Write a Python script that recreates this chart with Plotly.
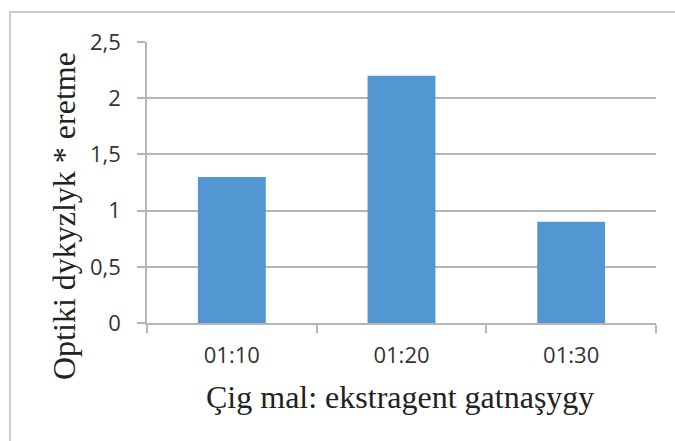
import plotly.graph_objects as go

# donnees
categories = ["01:10", "01:20", "01:30"]
valeurs = [1.3, 2.2, 0.9]
y_ticks = [0, 0.5, 1, 1.5, 2, 2.5]
titre_x = "Çig mal: ekstragent gatnaşygy"
titre_y = "Optiki dykyzlyk * eretme"

W, H = 675, 441
L, R, T, B = 147, 19, 42, 118

fig = go.Figure()

fig.add_trace(go.Bar(
    x=categories,
    y=valeurs,
    width=0.4,
    marker=dict(color="#5296D2", line=dict(width=0)),
))

# conversion pixels -> coordonnees paper
pw = W - L - R
ph = H - T - B
def px_x(px):
    return (px - L) / pw
def px_y(py):
    return (H - B - py) / ph

# cadre gris (haut + gauche seulement)
fig.add_shape(
    type="path", xref="paper", yref="paper",
    path="M %f,%f L %f,%f L %f,%f" % (px_x(10), px_y(442), px_x(10), px_y(12), px_x(676), px_y(12)),
    line=dict(color="#BDBDBD", width=1.5),
)

# titres des axes
fig.add_annotation(
    text=titre_x, xref="paper", yref="paper",
    x=px_x(400), y=px_y(397), xanchor="center", yanchor="middle",
    showarrow=False, font=dict(family="Liberation Serif", size=32, color="#222222"),
)
fig.add_annotation(
    text=titre_y, xref="paper", yref="paper", textangle=-90,
    x=px_x(64), y=px_y(216), xanchor="center", yanchor="middle",
    showarrow=False, font=dict(family="Liberation Serif", size=32, color="#222222"),
)

fig.update_layout(
    width=W, height=H,
    margin=dict(l=L, r=R, t=T, b=B, autoexpand=False),
    plot_bgcolor="white",
    paper_bgcolor="white",
    separators=",.",
    showlegend=False,
    xaxis=dict(
        showline=True, linecolor="#B5B5B5", linewidth=1.5,
        ticks="outside", tickson="boundaries", ticklen=8, tickcolor="#B5B5B5", tickwidth=1.5,
        ticklabelstandoff=12,
        tickfont=dict(family="Open Sans", size=22, color="#333333"),
    ),
    yaxis=dict(
        range=[0, 2.5], tickvals=y_ticks,
        showgrid=True, gridcolor="#B5B5B5", gridwidth=1.5,
        showline=True, linecolor="#B5B5B5", linewidth=1.5,
        ticks="outside", ticklen=8, tickcolor="#B5B5B5", tickwidth=1.5,
        ticklabelstandoff=12,
        zeroline=False,
        tickfont=dict(family="Open Sans", size=22, color="#333333"),
    ),
)

fig.write_html("out.html", config={"displayModeBar": False},
               post_script="document.body.style.margin='0px';")
